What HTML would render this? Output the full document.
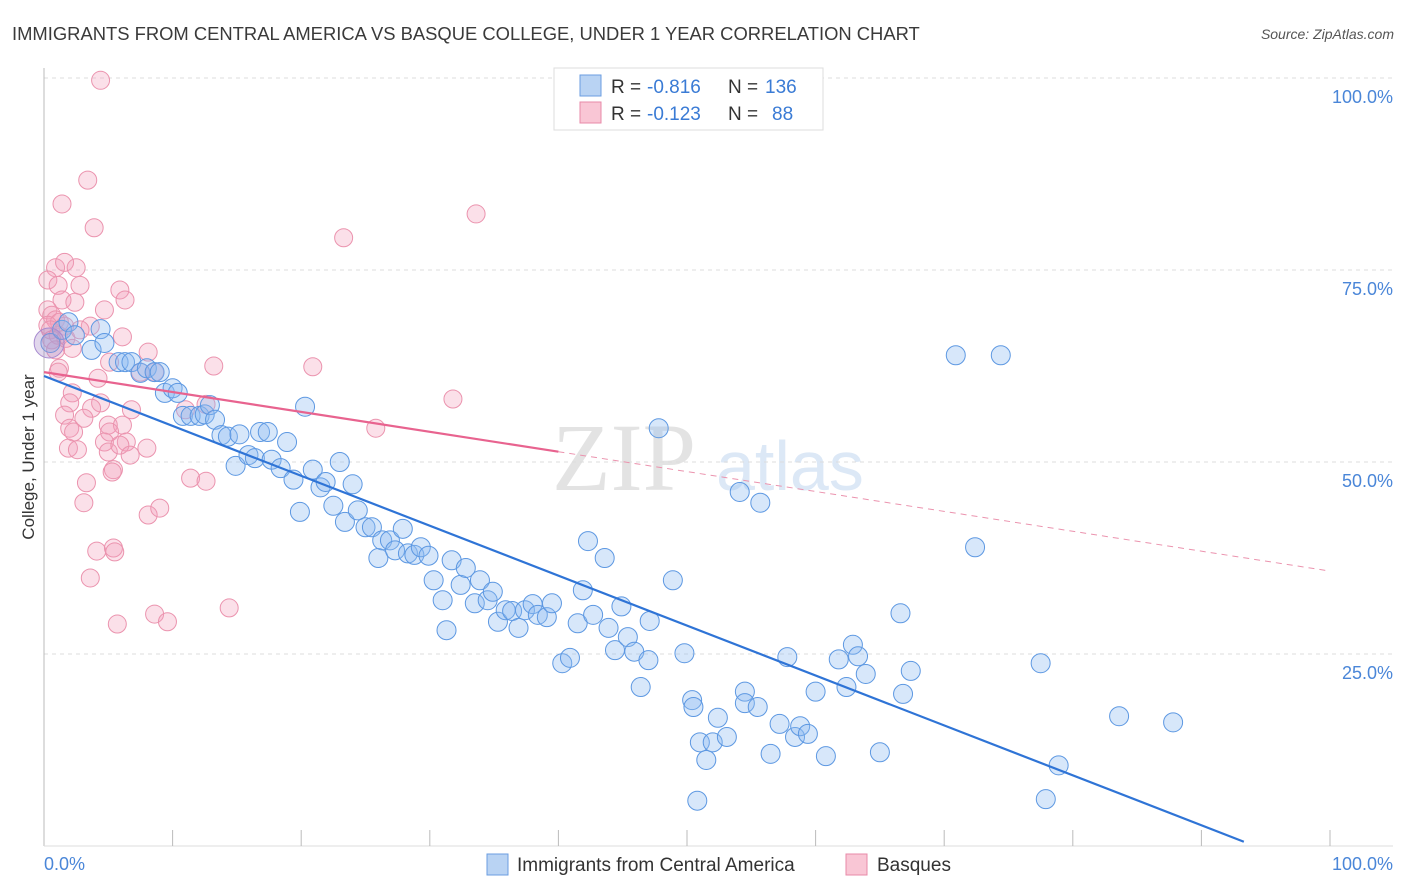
<!DOCTYPE html>
<html><head><meta charset="utf-8"><style>
body{margin:0;background:#fff;font-family:"Liberation Sans",sans-serif;}
svg{display:block}
</style></head><body>
<svg id="chart" width="1406" height="892" xmlns="http://www.w3.org/2000/svg">
<text x="12" y="40" font-size="18.4" fill="#3a3a3a">IMMIGRANTS FROM CENTRAL AMERICA VS BASQUE COLLEGE, UNDER 1 YEAR CORRELATION CHART</text>
<text x="1394" y="39" font-size="14" font-style="italic" fill="#555" text-anchor="end">Source: ZipAtlas.com</text>
<g>
<text x="552" y="490" font-size="96" font-family="Liberation Serif,serif" fill="#e3e3e3">ZIP</text>
<text x="716" y="490" font-size="70" fill="#dce8f6">atlas</text>
</g>
<g id="grid"></g>
<g id="axes"></g>
<g id="pts"></g>
<g id="lines"></g>
<text transform="translate(34,457) rotate(-90)" font-size="17" fill="#333" text-anchor="middle">College, Under 1 year</text>
<g>
<rect x="554" y="68" width="269" height="62" fill="#fff" stroke="#ddd"/>
<rect x="580" y="75" width="21" height="21" fill="#b9d3f3" stroke="#6b9ee0"/>
<rect x="580" y="102" width="21" height="21" fill="#f9c6d5" stroke="#e88aa8"/>
<g font-size="19" fill="#333">
<text x="611" y="93">R =</text>
<text x="647" y="93" fill="#3a7bd5">-0.816</text>
<text x="728" y="93">N =</text>
<text x="765" y="93" fill="#3a7bd5">136</text>
<text x="611" y="120">R =</text>
<text x="647" y="120" fill="#3a7bd5">-0.123</text>
<text x="728" y="120">N =</text>
<text x="772" y="120" fill="#3a7bd5">88</text>
</g>
</g>
<g>
<rect x="487" y="854" width="21" height="21" fill="#b9d3f3" stroke="#6b9ee0"/>
<text x="517" y="871" font-size="19" fill="#333">Immigrants from Central America</text>
<rect x="846" y="854" width="21" height="21" fill="#f9c6d5" stroke="#e88aa8"/>
<text x="877" y="871" font-size="19" fill="#333">Basques</text>
</g>
</svg>
<script>
const blueX=[0.5,1.4,1.9,2.4,3.7,4.4,4.7,5.8,6.3,6.8,7.5,8.0,8.6,9.0,9.4,10.0,10.4,10.8,11.4,12.1,12.5,12.9,13.3,13.8,14.3,14.9,15.2,15.9,16.4,16.8,17.4,17.7,18.4,18.9,19.4,19.9,20.3,20.9,21.5,21.9,22.5,23.0,23.4,24.0,24.4,25.0,25.5,26.0,26.3,26.9,27.3,27.9,28.3,28.8,29.3,29.9,30.3,31.0,31.3,31.7,32.4,32.8,33.5,33.9,34.5,34.9,35.3,35.9,36.4,36.9,37.4,38.0,38.4,39.1,39.5,40.3,40.9,41.5,41.9,42.3,42.7,43.6,43.9,44.4,44.9,45.4,45.9,46.4,47.0,47.1,47.8,48.9,49.8,50.4,50.5,51.0,51.5,52.0,52.4,53.1,54.1,54.5,54.5,55.5,55.7,56.5,57.2,57.8,58.4,58.8,59.4,60.0,60.8,61.8,62.4,62.9,63.3,63.9,65.0,66.6,66.8,67.4,70.9,72.4,74.4,77.5,77.9,78.9,83.6,87.8,50.8];
const blueY=[65.5,67.2,68.2,66.5,64.6,67.3,65.5,63.0,63.0,63.0,61.6,62.2,61.7,61.7,59.0,59.6,59.0,56.0,56.0,56.0,56.2,57.4,55.5,53.5,53.3,49.5,53.6,50.9,50.5,53.9,53.9,50.3,49.2,52.6,47.7,43.5,57.2,49.0,46.7,47.4,44.3,50.0,42.2,47.1,43.7,41.5,41.5,37.5,39.8,39.8,38.5,41.3,38.1,37.9,38.9,37.8,34.6,32.0,28.1,37.2,34.0,36.2,31.6,34.6,32.0,33.1,29.2,30.7,30.6,28.4,30.7,31.5,30.1,29.8,31.6,23.8,24.5,29.0,33.3,39.7,30.1,37.5,28.4,25.5,31.2,27.2,25.3,20.7,24.2,29.3,54.4,34.6,25.1,19.0,18.1,13.5,11.2,13.5,16.7,14.2,46.1,20.1,18.6,18.1,44.7,12.0,15.9,24.6,14.2,15.6,14.6,20.1,11.7,24.3,20.7,26.2,24.7,22.4,12.2,30.3,19.8,22.8,63.9,38.9,63.9,23.8,6.1,10.5,16.9,16.1,5.9];
const pinkX=[4.4,3.4,1.4,3.9,33.6,23.3,0.9,1.6,2.5,0.3,1.1,2.8,5.9,6.3,1.4,2.4,4.7,0.3,0.6,0.9,1.2,1.6,0.3,0.5,1.1,1.7,6.1,8.1,0.6,20.9,13.2,5.1,1.2,4.2,8.6,2.2,2.0,4.4,6.8,11.0,3.7,1.6,3.1,2.0,2.3,5.0,6.1,5.1,4.7,6.4,8.0,1.9,2.6,5.0,5.9,5.4,5.3,11.4,12.6,3.3,3.1,8.1,9.0,4.1,5.4,5.5,3.6,8.6,9.6,5.7,14.4,31.8,25.8,12.6,7.5,3.6,2.2,1.1,6.7,0.9,2.8];
const pinkY=[99.7,86.7,83.6,80.5,82.3,79.2,75.3,76.0,75.3,73.7,73.0,73.0,72.4,71.1,71.1,70.8,69.8,69.8,69.1,68.5,68.2,67.7,67.8,67.2,66.5,66.1,66.3,64.3,65.9,62.4,62.5,63.0,62.2,60.9,61.7,59.0,57.7,57.7,56.8,56.8,57.0,56.1,55.7,54.4,53.9,54.8,54.8,53.9,52.6,52.6,51.8,51.8,51.6,51.3,52.2,49.0,48.7,47.9,47.5,47.3,44.7,43.1,44.0,38.4,38.8,38.3,34.9,30.2,29.2,28.9,31.0,58.2,54.4,57.5,61.7,67.7,64.8,61.7,50.9,64.6,67.2];
const blueFit=[61.2,-0.650];   // intercept, slope
const pinkFit=[61.7,-0.259];
const pinkSolidEnd=40, blueEnd=93.3;
const yTicks=[25,50,75,100];
const xTickLabels=["0.0%","100.0%"];

const NS="http://www.w3.org/2000/svg";
const X0=44,X1=1330,Y0=846,Y1=78;
const sx=v=>X0+(X1-X0)*v/100, sy=v=>Y0-(Y0-Y1)*v/100;
function mk(tag,attrs,parent){const e=document.createElementNS(NS,tag);for(const k in attrs)e.setAttribute(k,attrs[k]);document.getElementById(parent).appendChild(e);return e;}
yTicks.forEach(t=>{
 const g=mk('line',{x1:X0,x2:1393,y1:sy(t),y2:sy(t),stroke:'#ddd','stroke-dasharray':'4,4'},'grid');
 
 
 const l=mk('text',{x:1393,y:sy(t)+25,'font-size':18,fill:'#4a86d8','text-anchor':'end'},'grid');
 l.textContent=t.toFixed(1)+'%';
 
 
});
const ya=mk('line',{x1:X0,x2:X0,y1:68,y2:Y0,stroke:'#bbb'},'axes');


const xa=mk('line',{x1:X0,x2:1393,y1:Y0,y2:Y0,stroke:'#ddd'},'axes');


for(let i=1;i<=10;i++){const t=mk('line',{x1:sx(i*10),x2:sx(i*10),y1:830,y2:Y0,stroke:'#bbb'},'axes');
 
 }
const xl0=mk('text',{x:44,y:870,'font-size':18,fill:'#4a86d8'},'axes');xl0.textContent=xTickLabels[0];


const xl1=mk('text',{x:1393,y:870,'font-size':18,fill:'#4a86d8','text-anchor':'end'},'axes');xl1.textContent=xTickLabels[1];


pinkX.forEach((v,i)=>{const c=mk('circle',{cx:sx(v),cy:sy(pinkY[i]),r:9,fill:'rgba(244,160,186,0.32)',stroke:'#eb93ae','stroke-width':1},'pts');
 
 });
blueX.forEach((v,i)=>{const c=mk('circle',{cx:sx(v),cy:sy(blueY[i]),r:9.5,fill:'rgba(140,185,240,0.35)',stroke:'#5d98e2','stroke-width':1},'pts');
 
 });
const big=mk('circle',{cx:sx(0.4),cy:sy(65.5),r:15,fill:'rgba(170,140,200,0.35)',stroke:'#a88bd0'},'pts');


const bl=mk('line',{x1:sx(0),y1:sy(blueFit[0]),x2:sx(blueEnd),y2:sy(blueFit[0]+blueFit[1]*blueEnd),stroke:'#2f74d6','stroke-width':2.2},'lines');


const pl=mk('line',{x1:sx(0),y1:sy(pinkFit[0]),x2:sx(pinkSolidEnd),y2:sy(pinkFit[0]+pinkFit[1]*pinkSolidEnd),stroke:'#e8638f','stroke-width':2.2},'lines');


const pd=mk('line',{x1:sx(pinkSolidEnd),y1:sy(pinkFit[0]+pinkFit[1]*pinkSolidEnd),x2:sx(100),y2:sy(pinkFit[0]+pinkFit[1]*100),stroke:'#eb93ae','stroke-width':1,'stroke-dasharray':'6,5'},'lines');


</script>
</body></html>
